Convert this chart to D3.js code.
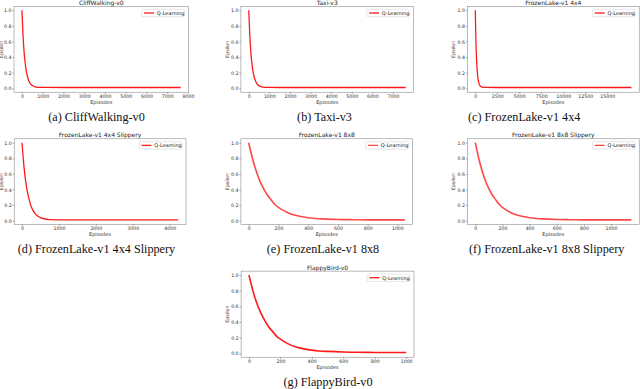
<!DOCTYPE html>
<html><head><meta charset="utf-8">
<script src="https://cdn.jsdelivr.net/npm/d3@7"></script>
<style>
html,body{margin:0;padding:0;background:#fff;}
svg{display:block;}
</style></head>
<body>
<svg id="chart" width="640" height="389"></svg>
<script>
// ---------- data ----------
const titles = ["CliffWalking-v0","Taxi-v3","FrozenLake-v1 4x4","FrozenLake-v1 4x4 Slippery","FrozenLake-v1 8x8","FrozenLake-v1 8x8 Slippery","FlappyBird-v0"];
const captions = ["(a) CliffWalking-v0","(b) Taxi-v3","(c) FrozenLake-v1 4x4","(d) FrozenLake-v1 4x4 Slippery","(e) FrozenLake-v1 8x8","(f) FrozenLake-v1 8x8 Slippery","(g) FlappyBird-v0"];
const seriesName = "Q-Learning";
const xLabel = "Episodes";
const yLabel = "Epsilon";

const epA = [0,50,100,150,200,250,300,350,400,450,500,600,700,800,1000,2000,4000,6000,7650];
const valA = [1.0,0.69,0.48,0.34,0.24,0.17,0.12,0.085,0.06,0.045,0.035,0.022,0.016,0.013,0.011,0.01,0.01,0.01,0.01];
const epB = [0,50,100,150,200,250,300,350,400,450,500,600,700,800,1000,2000,4000,6000,7620];
const valB = [1.0,0.68,0.47,0.33,0.23,0.16,0.115,0.08,0.058,0.043,0.033,0.021,0.015,0.012,0.011,0.01,0.01,0.01,0.01];
const epC = [0,50,100,150,200,250,300,400,500,600,800,1000,2500,5000,10000,15000,17750];
const valC = [1.0,0.7,0.49,0.35,0.25,0.18,0.13,0.07,0.04,0.027,0.015,0.012,0.01,0.01,0.01,0.01,0.01];
const epD = [0,50,100,150,200,250,300,350,400,500,600,700,800,1000,1500,2000,3000,4230];
const valD = [1.0,0.71,0.5,0.36,0.26,0.18,0.13,0.095,0.07,0.04,0.025,0.018,0.014,0.011,0.01,0.01,0.01,0.01];
const epE = [0,25,50,75,100,125,150,175,200,250,300,350,400,450,500,600,700,800,900,1050];
const valE = [1.0,0.8,0.64,0.51,0.41,0.33,0.27,0.21,0.17,0.115,0.076,0.053,0.038,0.029,0.023,0.016,0.013,0.011,0.01,0.01];
const epF = [0,25,50,75,100,125,150,175,200,250,300,350,400,450,500,600,700,800,900,1000,1150];
const valF = [1.0,0.8,0.64,0.51,0.41,0.33,0.27,0.21,0.17,0.115,0.076,0.053,0.038,0.029,0.023,0.016,0.013,0.011,0.01,0.01,0.01];
const epG = [0,25,50,75,100,125,150,175,200,250,300,350,400,450,500,600,700,800,900,1000];
const valG = [1.0,0.8,0.64,0.52,0.42,0.34,0.28,0.22,0.18,0.12,0.08,0.056,0.04,0.03,0.024,0.016,0.013,0.011,0.01,0.01];

const xTicksA = [0,1000,2000,3000,4000,5000,6000,7000,8000];
const xTicksB = [0,1000,2000,3000,4000,5000,6000,7000];
const xTicksC = [0,2500,5000,7500,10000,12500,15000];
const xTicksD = [0,1000,2000,3000,4000];
const xTicksE = [0,200,400,600,800,1000];
const yTicks = [0.0,0.2,0.4,0.6,0.8,1.0];

// ---------- layout (pixel boxes of each plot area; caption placement) ----------
const layout = [
  {x0:14,   x1:188.6, y0:6.4,   y1:92.2,  capX:96.5, capY:121,   capAnchor:"middle", ylabX:1.9},
  {x0:240.9,x1:413.6, y0:6.4,   y1:92.2,  capX:324.5,capY:121,   capAnchor:"middle", ylabX:227},
  {x0:467.5,x1:639.2, y0:6.4,   y1:92.2,  capX:468,  capY:121,   capAnchor:"start",  ylabX:453.8},
  {x0:14.2, x1:186,   y0:138.8, y1:224.6, capX:96.5, capY:253,   capAnchor:"middle", ylabX:1.9},
  {x0:240.9,x1:412.6, y0:138.8, y1:224.6, capX:323,  capY:253,   capAnchor:"middle", ylabX:227},
  {x0:467.5,x1:639.2, y0:138.8, y1:224.6, capX:469,  capY:253,   capAnchor:"start",  ylabX:453.8},
  {x0:241.1,x1:414,   y0:271.1, y1:357.2, capX:328,  capY:385.5, capAnchor:"middle", ylabX:227}
];

const panels = [
  {ep:epA, val:valA, xt:xTicksA},
  {ep:epB, val:valB, xt:xTicksB},
  {ep:epC, val:valC, xt:xTicksC},
  {ep:epD, val:valD, xt:xTicksD},
  {ep:epE, val:valE, xt:xTicksE},
  {ep:epF, val:valF, xt:xTicksE},
  {ep:epG, val:valG, xt:xTicksE}
];

const svg = d3.select("#chart");
const tickFont = "DejaVu Sans";

panels.forEach((p, i) => {
  const L = layout[i];
  const xmax = d3.max(p.ep);
  const x = d3.scaleLinear().domain([-0.05*xmax, 1.05*xmax]).range([L.x0, L.x1]);
  const y = d3.scaleLinear().domain([-0.05, 1.05]).range([L.y1, L.y0]);
  const g = svg.append("g");

  // x axis
  const xa = g.append("g").attr("transform", `translate(0,${L.y1})`)
    .call(d3.axisBottom(x).tickValues(p.xt).tickSize(1.6).tickPadding(0.9).tickFormat(d3.format("d")));
  // y axis
  const ya = g.append("g").attr("transform", `translate(${L.x0},0)`)
    .call(d3.axisLeft(y).tickValues(yTicks).tickSize(1.6).tickPadding(0.9).tickFormat(d3.format(".1f")));
  [xa, ya].forEach(a => {
    a.select(".domain").remove();
    a.selectAll(".tick line").attr("stroke", "#555").attr("stroke-width", 0.5);
    a.selectAll(".tick text").attr("font-family", tickFont).attr("font-size", 4.7).attr("fill", "#333");
  });

  // frame
  g.append("rect").attr("x", L.x0).attr("y", L.y0)
    .attr("width", L.x1 - L.x0).attr("height", L.y1 - L.y0)
    .attr("fill", "none").attr("stroke", "#777").attr("stroke-width", 0.5);

  // line
  const pts = p.ep.map((e, k) => [e, p.val[k]]);
  g.append("path").datum(pts)
    .attr("fill", "none").attr("stroke", "#ff1a1a").attr("stroke-width", i >= 4 ? 1.6 : 1.3)
    .attr("stroke-opacity", i === 4 || i === 5 ? 0.8 : 1)
    .attr("d", d3.line().x(d => x(d[0])).y(d => y(d[1])).curve(d3.curveMonotoneX));

  // title
  g.append("text").attr("x", (L.x0 + L.x1) / 2).attr("y", L.y0 - 1.6)
    .attr("text-anchor", "middle").attr("font-family", tickFont).attr("font-size", 6).attr("fill", "#222")
    .text(titles[i]);

  // axis labels
  g.append("text").attr("x", (L.x0 + L.x1) / 2).attr("y", L.y1 + 11.6)
    .attr("text-anchor", "middle").attr("font-family", tickFont).attr("font-size", 5).attr("fill", "#333")
    .text(xLabel);
  g.append("text").attr("transform", `translate(${L.ylabX},${(L.y0 + L.y1) / 2}) rotate(-90)`)
    .attr("text-anchor", "middle").attr("dominant-baseline", "central")
    .attr("font-family", tickFont).attr("font-size", 4.8).attr("fill", "#333")
    .text(yLabel);

  // legend
  const lw = 42.5, lh = 7.4;
  const lx = L.x1 - 4.3 - lw, ly = L.y0 + 2.9;
  g.append("rect").attr("x", lx).attr("y", ly).attr("width", lw).attr("height", lh)
    .attr("rx", 1).attr("fill", "#fff").attr("stroke", "#ccc").attr("stroke-width", 0.5);
  g.append("line").attr("x1", lx + 2.3).attr("x2", lx + 12.3)
    .attr("y1", ly + lh / 2).attr("y2", ly + lh / 2)
    .attr("stroke", "#ff1a1a").attr("stroke-width", 1.3).attr("stroke-opacity", i === 4 || i === 5 ? 0.8 : 1);
  g.append("text").attr("x", lx + 15).attr("y", ly + lh / 2)
    .attr("dominant-baseline", "central").attr("font-family", tickFont).attr("font-size", 5)
    .attr("fill", "#222").text(seriesName);

  // caption
  svg.append("text").attr("x", L.capX).attr("y", L.capY)
    .attr("text-anchor", L.capAnchor).attr("font-family", "Liberation Serif, Times New Roman, serif")
    .attr("font-size", 12.2).attr("fill", "#111").text(captions[i]);
});
</script>
</body></html>
